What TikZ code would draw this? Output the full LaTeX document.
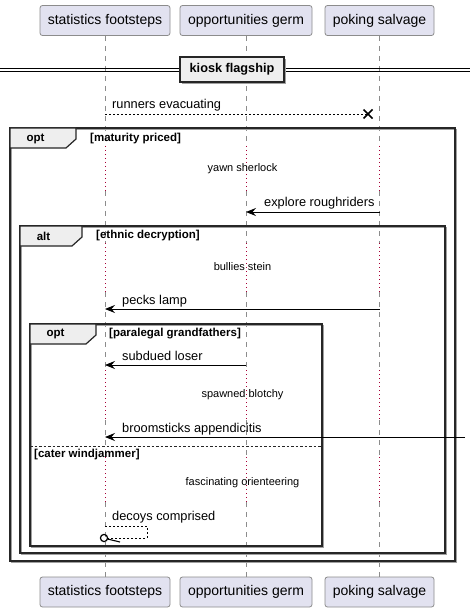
\documentclass[tikz,border=0pt]{standalone}
\usepackage{fontspec}
\setmainfont{Liberation Sans}
\usetikzlibrary{arrows.meta,calc}
\definecolor{partfill}{HTML}{E2E2F0}
\definecolor{partdraw}{HTML}{8C8C8C}
\definecolor{lifecol}{HTML}{8C8C8C}
\definecolor{delaycol}{HTML}{A80036}
\definecolor{tabfill}{HTML}{EEEEEE}
\definecolor{shadowcol}{HTML}{A0A0A0}
\begin{document}
\begin{tikzpicture}[x=1pt,y=-1pt,
  part/.style={draw=partdraw, fill=partfill, rounded corners=2.5pt, minimum height=30pt,
    inner sep=0pt, font=\fontsize{14}{16}\selectfont, line width=0.8pt},
  life/.style={draw=lifecol, dash pattern=on 5pt off 5pt, line width=0.8pt},
  dly/.style={draw=delaycol, dash pattern=on 1pt off 3pt, line width=0.9pt},
  msg/.style={anchor=base west, inner sep=0pt, font=\fontsize{12.8}{15}\selectfont},
  dtext/.style={anchor=center, inner sep=0pt, font=\fontsize{11}{13}\selectfont},
  frlab/.style={inner sep=0pt, font=\bfseries\fontsize{11.5}{13}\selectfont},
  arr/.style={line width=0.9pt, -{Stealth[length=10pt,width=8pt,inset=3.5pt]}},
  frame/.style={draw=black!85, line width=1.5pt},
  shadow/.style={draw=shadowcol, line width=1.2pt},
  tab/.style={draw=black!85, fill=tabfill, line width=1.2pt},
]
\useasboundingbox (0,0) rectangle (470,612);
\fill[white] (0,0) rectangle (470,612);

% participants
\node[part, minimum width=130pt] (atop) at (105,20.5) {statistics footsteps};
\node[part, minimum width=132pt] (btop) at (246,20.5) {opportunities germ};
\node[part, minimum width=109pt] (ctop) at (379.5,20.5) {poking salvage};
\node[part, minimum width=130pt] (abot) at (105,592) {statistics footsteps};
\node[part, minimum width=132pt] (bbot) at (246,592) {opportunities germ};
\node[part, minimum width=109pt] (cbot) at (379.5,592) {poking salvage};

% lifelines with delay segments
\foreach \p in {a,b,c}{
  \draw[life] (\p top.south) -- (\p top.south |- 0,146);
  \draw[dly]  (\p top.south |- 0,146) -- (\p top.south |- 0,191);
  \draw[life] (\p top.south |- 0,191) -- (\p top.south |- 0,243);
  \draw[dly]  (\p top.south |- 0,243) -- (\p top.south |- 0,292);
  \draw[life] (\p top.south |- 0,292) -- (\p top.south |- 0,370);
  \draw[dly]  (\p top.south |- 0,370) -- (\p top.south |- 0,420);
  \draw[life] (\p top.south |- 0,420) -- (\p top.south |- 0,457);
  \draw[dly]  (\p top.south |- 0,457) -- (\p top.south |- 0,502);
  \draw[life] (\p top.south |- 0,502) -- (\p bot.north);
}

% divider
\draw[black, line width=0.9pt] (0,68.3) -- (470,68.3);
\draw[black, line width=0.9pt] (0,71.8) -- (470,71.8);
\fill[shadowcol] (182,59) rectangle (286,84);
\node[draw=black!85, fill=tabfill, line width=1.4pt, minimum width=104pt, minimum height=25pt,
  inner sep=0pt, font=\bfseries\fontsize{12.7}{15}\selectfont] (div) at (232,69.5) {kiosk flagship};

% frames: shadows
\draw[shadow] (11.5,129.5) rectangle (456.5,562.5);
\draw[shadow] (21.5,227.5) rectangle (446.5,554.5);
\draw[shadow] (31.5,325.5) rectangle (323.5,547.5);
% frames
\draw[frame] (10,128) rectangle (455,561);
\draw[frame] (20,226) rectangle (445,553);
\draw[frame] (30,324) rectangle (322,546);
% tabs
\draw[tab] (10,128) -- (76,128) -- (76,139) -- (66,148) -- (10,148) -- cycle;
\node[frlab] (lopt1) at (35.5,138.5) {opt};
\node[frlab, anchor=west] (gopt1) at (90,139) {[maturity priced]};
\draw[tab] (20,226) -- (82,226) -- (82,237) -- (72,246) -- (20,246) -- cycle;
\node[frlab] (lalt) at (43.5,236) {alt};
\node[frlab, anchor=west] (galt) at (96,236) {[ethnic decryption]};
\draw[tab] (30,324) -- (96,324) -- (96,335) -- (86,344) -- (30,344) -- cycle;
\node[frlab] (lopt2) at (55.5,334) {opt};
\node[frlab, anchor=west] (gopt2) at (109,334) {[paralegal grandfathers]};
\draw[black!85, line width=0.9pt, dash pattern=on 2.5pt off 2pt] (30,446) -- (322,446);
\node[frlab, anchor=west] (gelse) at (34,455) {[cater windjammer]};

% message coordinates
\coordinate (m1a) at (atop.south |- 0,114);
\coordinate (m1x) at (368,114);
\coordinate (m2c) at (ctop.south |- 0,212);
\coordinate (m2b) at (btop.south |- 0,212);
\coordinate (m3c) at (ctop.south |- 0,309);
\coordinate (m3a) at (atop.south |- 0,309);
\coordinate (m4b) at (btop.south |- 0,365);
\coordinate (m4a) at (atop.south |- 0,365);
\coordinate (m5r) at (465,437);
\coordinate (m5a) at (atop.south |- 0,437);
\coordinate (m6a) at (atop.south |- 0,526);
\coordinate (m6r) at (147,526);
\coordinate (m6q) at (147,538);
\coordinate (m6c) at (104,538);

% runners evacuating
\draw[line width=0.8pt, dash pattern=on 2pt off 2pt] (m1a) -- (m1x);
\draw[line width=1.6pt] ($(m1x)+(-4.5,-4.5)$) -- ($(m1x)+(4.5,4.5)$);
\draw[line width=1.6pt] ($(m1x)+(-4.5,4.5)$) -- ($(m1x)+(4.5,-4.5)$);
\node[msg] (t1) at (112,109) {runners evacuating};

% delays
\node[dtext] (d1) at (242.5,169) {yawn sherlock};
\node[dtext] (d2) at (242.5,267) {bullies stein};
\node[dtext] (d3) at (242.5,395) {spawned blotchy};
\node[dtext] (d4) at (242.5,483) {fascinating orienteering};

% messages
\draw[arr] (m2c) -- (m2b);
\node[msg] (t2) at (264,207) {explore roughriders};
\draw[arr] (m3c) -- (m3a);
\node[msg] (t3) at (122,304) {pecks lamp};
\draw[arr] (m4b) -- (m4a);
\node[msg] (t4) at (122,360) {subdued loser};
\draw[arr] (m5r) -- (m5a);
\node[msg] (t5) at (122,432) {broomsticks appendicitis};

% decoys comprised (self message)
\draw[line width=0.8pt, dash pattern=on 2pt off 2pt] (m6a) -- (m6r) -- (m6q) -- ($(m6c)+(4,0)$);
\draw[line width=1.2pt] (m6c) circle (3.6pt);
\draw[line width=1.1pt] ($(m6c)+(3.5,1)$) -- (120,542);
\node[msg] (t6) at (112,520) {decoys comprised};
\end{tikzpicture}
\end{document}
